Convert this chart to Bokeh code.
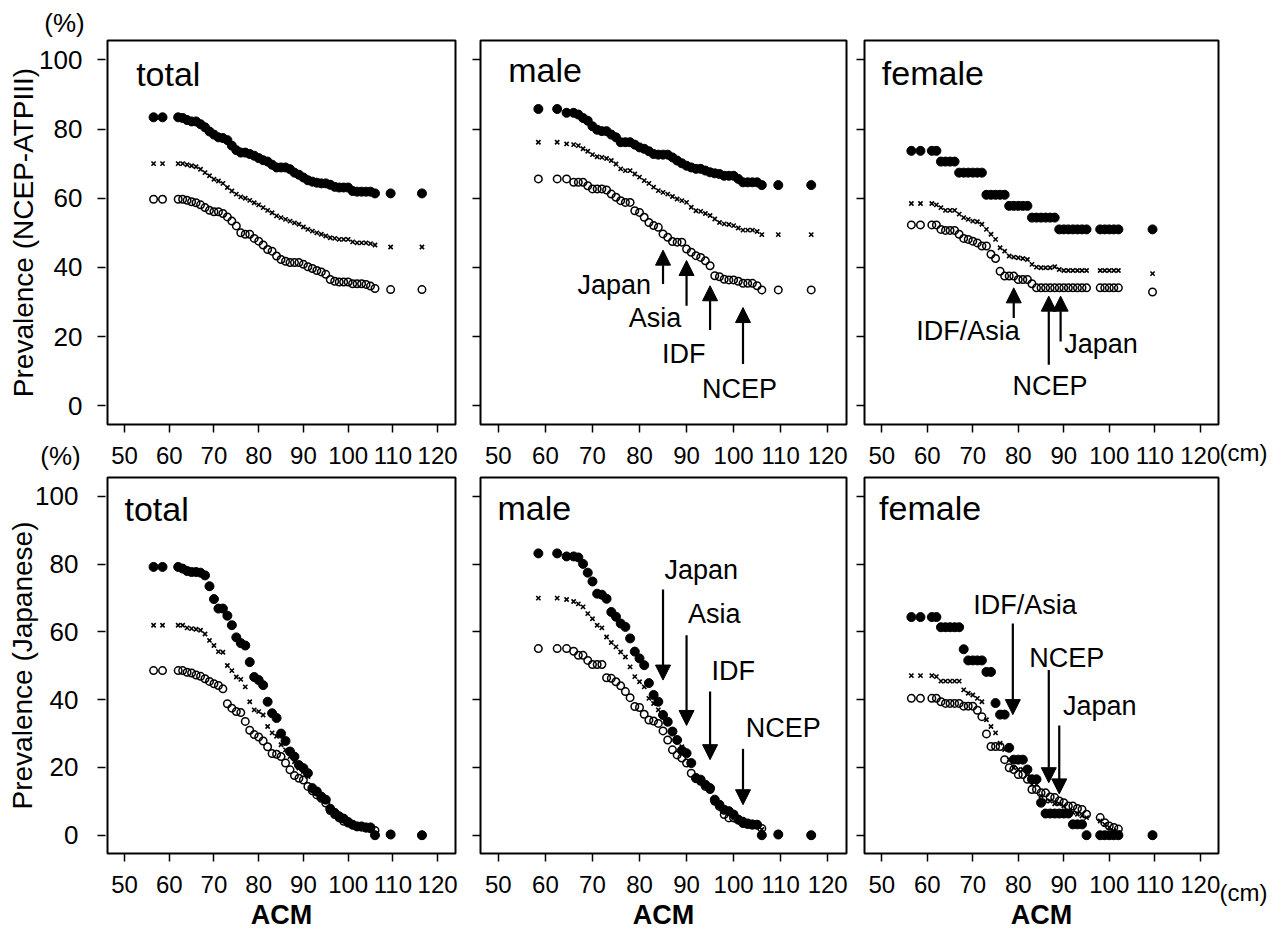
from bokeh.plotting import figure
from bokeh.models import Label, Arrow, NormalHead, FixedTicker, ColumnDataSource, Range1d
from bokeh.layouts import row, column
from bokeh.embed import file_html
from bokeh.resources import INLINE

FONT = "Liberation Sans"

# ---------------- data ----------------
x_ticks = [50, 60, 70, 80, 90, 100, 110, 120]
y_ticks = [0, 20, 40, 60, 80, 100]

total_x = [56.5, 58.5, 62, 63, 64, 65, 66, 67, 68, 69, 70, 71, 72, 73, 74, 75, 76, 77, 78, 79,
           80, 81, 82, 83, 84, 85, 86, 87, 88, 89, 90, 91, 92, 93, 94, 95, 96, 97, 98, 99,
           100, 101, 102, 103, 104, 105, 106, 109.5, 116.5]
male_x = [58.5, 62.5, 64.5, 66, 67, 68, 69, 70, 71, 72, 73, 74, 75, 76, 77, 78, 79,
          80, 81, 82, 83, 84, 85, 86, 87, 88, 89, 90, 91, 92, 93, 94, 95, 96, 97, 98, 99,
          100, 101, 102, 103, 104, 105, 106, 109.5, 116.5]
female_x = [56.5, 58.5, 61, 62, 63, 64, 65, 66, 67, 68, 69, 70, 71, 72, 73, 74, 75, 76, 77, 78, 79,
            80, 81, 82, 83, 84, 85, 86, 87, 88, 89, 90, 91, 92, 93, 94, 95,
            98, 99, 100, 101, 102, 109.5]

# NCEP-ATPIII row
ncep_total_filled = [83.4, 83.4, 83.4, 83.2, 82.6, 82.2, 82.2, 81.4, 80.5, 79.3, 78.4, 77.6, 77.4, 76.8,
                     75.2, 73.9, 73.2, 73.2, 72.8, 72.3, 71.6, 71.0, 70.6, 69.7, 68.9, 68.9, 68.9, 68.4,
                     67.4, 66.8, 66.0, 65.2, 64.8, 64.5, 64.3, 64.3, 63.9, 63.3, 63.1, 63.1, 63.1, 62.1,
                     61.9, 61.9, 61.9, 61.9, 61.4, 61.4, 61.4]
ncep_total_cross = [70.0, 70.0, 70.0, 70.0, 69.7, 69.4, 69.1, 68.4, 67.4, 66.5, 65.5, 65.0, 64.3, 63.1,
                    62.1, 61.2, 60.4, 60.0, 59.4, 58.7, 58.1, 57.3, 56.5, 55.8, 54.9, 54.4, 53.9, 53.4,
                    52.9, 52.5, 51.7, 51.0, 50.5, 50.0, 49.6, 49.1, 48.6, 48.4, 48.1, 48.1, 48.1, 47.4,
                    47.1, 47.1, 47.1, 46.9, 46.5, 45.9, 45.9]
ncep_total_open = [59.7, 59.7, 59.7, 59.7, 59.4, 59.0, 58.7, 58.1, 57.3, 56.5, 56.1, 56.1, 55.6, 54.6,
                   53.4, 52.0, 50.0, 49.6, 49.6, 48.4, 47.6, 46.5, 45.2, 44.7, 43.3, 42.3, 41.8, 41.4,
                   41.4, 41.4, 40.9, 40.2, 39.7, 39.1, 38.7, 38.0, 36.5, 36.0, 35.8, 35.8, 35.8, 35.3,
                   35.3, 35.3, 35.1, 34.6, 33.9, 33.6, 33.6]

ncep_male_filled = [85.8, 85.8, 84.7, 84.7, 84.2, 83.2, 82.4, 80.8, 79.8, 79.4, 79.4, 78.4, 77.6, 76.2,
                    76.2, 76.2, 75.5, 74.7, 74.3, 73.6, 72.8, 72.6, 72.6, 72.6, 71.8, 70.9, 70.1, 69.4,
                    68.9, 68.5, 68.5, 68.0, 67.5, 67.2, 67.0, 66.5, 66.5, 66.5, 65.6, 64.6, 64.6, 64.6,
                    64.6, 63.8, 63.8, 63.8]
ncep_male_cross = [76.2, 76.2, 75.7, 75.5, 75.2, 74.3, 73.6, 72.6, 72.0, 71.8, 71.5, 70.9, 69.9, 68.5,
                   68.0, 68.0, 67.0, 66.1, 65.1, 64.3, 63.2, 62.2, 61.7, 61.2, 60.5, 59.8, 59.3, 58.8,
                   57.4, 56.4, 56.2, 55.6, 55.0, 54.0, 53.0, 52.6, 52.4, 52.1, 51.4, 50.8, 50.8, 50.8,
                   50.4, 49.5, 49.5, 49.5]
ncep_male_open = [65.6, 65.6, 65.6, 64.6, 64.6, 64.6, 63.6, 62.7, 62.7, 62.7, 62.4, 61.2, 60.3, 59.3,
                  58.8, 58.8, 56.4, 55.9, 54.5, 53.0, 52.1, 51.6, 49.7, 48.7, 47.5, 47.3, 47.3, 45.3,
                  44.4, 43.4, 42.9, 41.9, 40.5, 37.6, 37.3, 36.6, 36.4, 36.4, 36.0, 35.4, 35.4, 35.4,
                  34.7, 33.5, 33.5, 33.5]

ncep_female_filled = [73.7, 73.7, 73.7, 73.7, 70.6, 70.6, 70.6, 70.6, 67.4, 67.4, 67.4, 67.4, 67.4, 67.4,
                      61.0, 61.0, 61.0, 61.0, 61.0, 57.8, 57.8, 57.8, 57.8, 57.8, 54.4, 54.4, 54.4, 54.4,
                      54.4, 54.4, 51.0, 51.0, 51.0, 51.0, 51.0, 51.0, 51.0, 51.0, 51.0, 51.0, 51.0, 51.0,
                      51.0]
ncep_female_cross = [58.5, 58.5, 58.5, 58.1, 57.3, 56.5, 56.5, 56.5, 55.4, 54.4, 53.9, 53.4, 53.2, 52.5,
                     51.0, 49.6, 48.1, 45.7, 44.7, 43.3, 43.0, 42.8, 42.6, 42.3, 40.9, 40.1, 39.9, 39.9,
                     39.9, 40.2, 39.4, 39.1, 39.1, 39.1, 39.1, 39.1, 39.1, 39.1, 39.1, 39.1, 39.1, 39.1,
                     38.2]
ncep_female_open = [52.3, 52.3, 52.3, 52.3, 51.0, 50.7, 50.7, 50.7, 49.6, 48.4, 48.1, 47.6, 47.1, 46.2,
                    46.2, 43.8, 42.6, 38.9, 37.5, 37.5, 37.5, 36.5, 36.5, 36.5, 35.3, 34.1, 34.1, 34.1,
                    34.1, 34.1, 34.1, 34.1, 34.1, 34.1, 34.1, 34.1, 34.1, 34.1, 34.1, 34.1, 34.1, 34.1,
                    32.9]

# Japanese row
jp_total_filled = [79.2, 79.2, 79.2, 78.7, 78.0, 77.7, 77.7, 77.5, 76.7, 73.5, 69.7, 66.9, 66.9, 64.8,
                   62.0, 58.4, 56.7, 56.0, 51.1, 46.7, 45.8, 44.3, 39.4, 36.0, 34.6, 30.0, 27.8, 24.7,
                   23.2, 20.7, 19.8, 18.3, 13.9, 12.9, 11.4, 10.5, 7.8, 6.6, 5.6, 4.9, 3.9, 3.1,
                   2.6, 2.6, 2.3, 2.3, 0.0, 0.2, 0.0]
jp_total_cross = [62.0, 62.0, 62.0, 62.0, 61.2, 61.0, 60.8, 60.5, 59.4, 57.5, 56.0, 54.2, 54.0, 50.1,
                  48.6, 46.7, 46.0, 43.8, 39.4, 37.0, 36.5, 35.5, 32.1, 30.2, 29.2, 26.7, 25.2, 23.2,
                  21.7, 19.8, 18.8, 17.3, 13.9, 12.4, 11.2, 10.0, 7.5, 6.3, 5.3, 4.3, 3.6, 2.9,
                  2.4, 2.3, 2.1, 1.9, 0.0, 0.2, 0.0]
jp_total_open = [48.6, 48.6, 48.6, 48.6, 48.1, 47.9, 47.3, 46.9, 46.2, 45.4, 44.7, 44.2, 43.2, 38.8,
                 37.5, 36.5, 36.2, 33.6, 31.0, 29.7, 29.0, 27.8, 26.1, 24.1, 23.9, 23.2, 21.3, 19.3,
                 17.6, 16.8, 16.3, 14.4, 13.1, 11.9, 10.9, 9.5, 7.3, 6.1, 5.1, 4.1, 3.6, 3.1,
                 2.6, 2.4, 2.1, 1.9, 1.4, 0.3, 0.0]

jp_male_filled = [83.2, 83.2, 82.3, 82.3, 82.0, 80.1, 77.5, 74.9, 71.3, 71.0, 69.8, 65.9, 64.5, 62.5,
                  61.5, 58.1, 54.2, 52.2, 50.2, 44.9, 41.4, 39.4, 35.5, 33.5, 30.6, 28.1, 25.0, 24.2,
                  21.3, 16.9, 16.4, 14.9, 13.9, 10.5, 9.0, 7.5, 7.1, 6.1, 4.6, 3.6, 3.3, 3.1,
                  3.1, 0.0, 0.2, 0.0]
jp_male_cross = [70.0, 70.0, 69.6, 69.0, 68.3, 67.4, 65.4, 63.9, 62.0, 61.2, 58.5, 56.9, 55.6, 54.1,
                 52.6, 49.7, 46.8, 45.3, 43.8, 40.4, 38.9, 37.0, 35.0, 33.0, 30.6, 28.1, 26.1, 24.2,
                 21.3, 17.1, 16.1, 14.7, 13.7, 10.2, 8.8, 7.5, 6.9, 5.9, 4.6, 3.9, 3.3, 3.1,
                 2.9, 1.7, 0.2, 0.0]
jp_male_open = [55.1, 55.1, 55.1, 54.3, 53.1, 53.1, 51.6, 50.4, 50.4, 50.4, 46.5, 46.3, 45.3, 44.1,
                42.4, 40.6, 38.0, 37.7, 35.7, 34.0, 33.7, 33.0, 30.8, 28.1, 25.2, 23.7, 22.8, 21.3,
                18.3, 16.7, 15.9, 14.4, 13.5, 10.0, 8.5, 6.1, 5.1, 5.1, 4.6, 4.1, 3.6, 3.3,
                3.1, 2.0, 0.3, 0.0]

jp_female_filled = [64.4, 64.4, 64.4, 64.4, 61.4, 61.4, 61.4, 61.4, 61.4, 54.9, 51.6, 51.6, 51.6, 51.6,
                    48.2, 48.2, 39.0, 35.6, 35.6, 25.8, 22.3, 22.3, 22.3, 19.4, 16.5, 16.5, 9.6, 6.4,
                    6.4, 6.4, 6.4, 6.4, 6.4, 3.2, 3.2, 3.2, 0.0, 0.0, 0.0, 0.0, 0.0, 0.0,
                    0.0]
jp_female_cross = [47.1, 47.1, 47.1, 46.8, 45.5, 45.5, 45.5, 45.5, 45.5, 42.9, 41.9, 41.4, 40.4, 39.4,
                   34.1, 32.1, 30.2, 27.2, 25.3, 22.3, 19.9, 19.4, 19.4, 18.4, 15.0, 15.0, 11.6, 10.1,
                   10.1, 9.3, 9.3, 8.6, 7.2, 6.7, 6.2, 5.7, 5.2, 4.2, 3.2, 2.3, 1.3, 0.8,
                   0.0]
jp_female_open = [40.4, 40.4, 40.4, 40.4, 39.4, 38.9, 38.9, 38.9, 38.9, 38.1, 38.1, 38.1, 36.9, 35.0,
                  29.9, 26.2, 26.2, 26.2, 22.3, 19.9, 19.4, 17.9, 17.9, 16.5, 13.5, 13.5, 12.5, 12.5,
                  11.3, 11.1, 10.1, 9.6, 8.6, 8.6, 7.9, 7.6, 6.2, 5.2, 3.7, 2.7, 2.3, 1.8,
                  0.0]

# cut-off arrows: (x, tail y, head y)
arrows_ncep_male = [(85, 35.2, 45.0), (90, 28.9, 42.0), (95, 21.9, 34.7), (102, 12.1, 28.4)]
arrows_ncep_female = [(79, 25.4, 34.1), (86.7, 11.9, 31.7), (89.3, 18.6, 31.7)]
arrows_jp_male = [(85, 72.5, 45.8), (90, 59.0, 32.4), (95, 42.4, 22.3), (102, 25.5, 9.0)]
arrows_jp_female = [(78.8, 62.5, 35.6), (86.7, 48.8, 15.5), (89.0, 32.4, 12.2)]

# arrow captions: (text, left x, baseline y)
notes_ncep_male = [("Japan", 66.8, 32.3), ("Asia", 77.7, 22.7), ("IDF", 84.8, 12.5), ("NCEP", 93.3, 2.4)]
notes_ncep_female = [("IDF/Asia", 57.6, 19.1), ("Japan", 90.1, 15.3), ("NCEP", 78.7, 3.2)]
notes_jp_male = [("Japan", 85.3, 75.7), ("Asia", 90.3, 62.5), ("IDF", 95.3, 45.8), ("NCEP", 102.6, 29.1)]
notes_jp_female = [("IDF/Asia", 70.1, 65.4), ("NCEP", 82.4, 49.8), ("Japan", 89.8, 35.6)]

X_RANGE = (46.2, 124.0)
Y_RANGE = (-5.4, 105.6)

TICK_OUT = 8


def style_axis(ax, size):
    ax.axis_line_color = None
    ax.major_tick_in = 0
    ax.major_tick_out = TICK_OUT
    ax.major_tick_line_width = 1.5
    ax.major_tick_line_color = "black"
    ax.minor_tick_line_color = None
    ax.major_label_text_font = FONT
    ax.major_label_text_font_size = size
    ax.major_label_text_color = "black"


def panel_fig(width, height, bl, br, bt, bb, xstandoff, yaxis=True):
    p = figure(width=width, height=height, x_range=Range1d(*X_RANGE), y_range=Range1d(*Y_RANGE),
               output_backend="svg", toolbar_location=None, tools="",
               y_axis_location="left" if yaxis else None,
               min_border_left=bl, min_border_right=br, min_border_top=bt, min_border_bottom=bb)
    p.background_fill_color = "white"
    p.border_fill_color = "white"
    p.outline_line_color = "black"
    p.outline_line_width = 2
    p.grid.visible = False
    style_axis(p.xaxis[0], "24px")
    p.xaxis.ticker = FixedTicker(ticks=x_ticks)
    p.xaxis.major_label_standoff = xstandoff
    if yaxis:
        style_axis(p.yaxis[0], "24px")
        p.yaxis.ticker = FixedTicker(ticks=y_ticks)
        p.yaxis.major_label_standoff = 0
        p.yaxis.major_label_overrides = {t: "" for t in y_ticks}
    return p


def yaxis_fig(height, bt, bb, title, label_standoff, title_standoff):
    # narrow figure that carries the labelled y axis of a row (its frame is 1px wide)
    p = figure(width=106, height=height, x_range=Range1d(0, 1), y_range=Range1d(*Y_RANGE),
               output_backend="svg", toolbar_location=None, tools="", x_axis_location=None,
               min_border_left=105, min_border_right=0, min_border_top=bt, min_border_bottom=bb)
    p.outline_line_color = None
    p.background_fill_color = "white"
    p.border_fill_color = "white"
    p.grid.visible = False
    ax = p.yaxis[0]
    style_axis(ax, "26px")
    ax.ticker = FixedTicker(ticks=y_ticks)
    ax.major_label_standoff = label_standoff
    ax.axis_label = title
    ax.axis_label_text_font = FONT
    ax.axis_label_text_font_size = "28px"
    ax.axis_label_text_font_style = "normal"
    ax.axis_label_text_color = "black"
    ax.axis_label_standoff = title_standoff
    return p


def draw_series(p, xs, filled, cross, openc):
    assert len(xs) == len(filled) == len(cross) == len(openc)
    p.scatter(xs, filled, marker="circle", size=9, fill_color="black", line_color="black")
    p.scatter(xs, cross, marker="x", size=6, line_color="black", line_width=1.6)
    p.scatter(xs, openc, marker="circle", size=7.5, fill_color=None, line_color="black", line_width=1.5)


def add_text(p, x, y, text, size, units="data", align="left", baseline="alphabetic", place="center",
             y_offset=0):
    lab = Label(x=x, y=y, x_units=units, y_units=units, text=text, text_font=FONT,
                text_font_size=size, text_color="black", text_align=align, text_baseline=baseline,
                y_offset=y_offset)
    p.add_layout(lab, place)


def add_arrows(p, arrows, notes):
    src = ColumnDataSource(dict(x0=[a[0] for a in arrows], y0=[a[1] for a in arrows],
                                x1=[a[0] for a in arrows], y1=[a[2] for a in arrows]))
    p.add_layout(Arrow(x_start="x0", y_start="y0", x_end="x1", y_end="y1", source=src,
                       line_width=2.2, line_color="black",
                       end=NormalHead(size=15, fill_color="black", line_color="black", line_width=1)))
    for t, x, y in notes:
        add_text(p, x, y, t, "27px", y_offset=9)


def add_xtitle(p):
    p.xaxis.axis_label = "ACM"
    p.xaxis.axis_label_text_font = FONT
    p.xaxis.axis_label_text_font_size = "27px"
    p.xaxis.axis_label_text_font_style = "bold"
    p.xaxis.axis_label_text_color = "black"
    p.xaxis.axis_label_standoff = 4


H1, H2 = 472, 460
ya = yaxis_fig(H1, 40, 48, "Prevalence (NCEP-ATPIII)", 15, -3)
f1 = panel_fig(360, H1, 1, 11, 40, 48, 14, yaxis=False)
f2 = panel_fig(384, H1, 14, 4, 40, 48, 14)
f3 = panel_fig(430, H1, 14, 62, 40, 48, 14)

yb = yaxis_fig(H2, 5, 76, "Prevalence (Japanese)", 19, -6)
f4 = panel_fig(360, H2, 1, 11, 5, 76, 14, yaxis=False)
f5 = panel_fig(384, H2, 14, 4, 5, 76, 14)
f6 = panel_fig(430, H2, 14, 62, 5, 76, 14)
for f in (f4, f5, f6):
    add_xtitle(f)

draw_series(f1, total_x, ncep_total_filled, ncep_total_cross, ncep_total_open)
draw_series(f2, male_x, ncep_male_filled, ncep_male_cross, ncep_male_open)
draw_series(f3, female_x, ncep_female_filled, ncep_female_cross, ncep_female_open)
draw_series(f4, total_x, jp_total_filled, jp_total_cross, jp_total_open)
draw_series(f5, male_x, jp_male_filled, jp_male_cross, jp_male_open)
draw_series(f6, female_x, jp_female_filled, jp_female_cross, jp_female_open)

add_text(f1, 52.6, 92.6, "total", "34px", y_offset=11)
add_text(f2, 52.1, 94.0, "male", "34px", y_offset=11)
add_text(f3, 50.0, 93.0, "female", "34px", y_offset=11)
add_text(f4, 50.0, 93.2, "total", "34px", y_offset=11)
add_text(f5, 49.8, 93.3, "male", "34px", y_offset=11)
add_text(f6, 49.4, 93.3, "female", "34px", y_offset=11)

add_arrows(f2, arrows_ncep_male, notes_ncep_male)
add_arrows(f3, arrows_ncep_female, notes_ncep_female)
add_arrows(f5, arrows_jp_male, notes_jp_male)
add_arrows(f6, arrows_jp_female, notes_jp_female)

# outer unit marks, placed in side panels (canvas pixel coordinates)
add_text(ya, 64, 22, "(%)", "26px", units="canvas", align="center", baseline="middle", place="above")
add_text(ya, 60, 455, "(%)", "26px", units="canvas", align="center", baseline="middle", place="below")
add_text(f3, 393, 452, "(cm)", "24px", units="canvas", align="center", baseline="middle", place="right")
add_text(f6, 393, 420, "(cm)", "24px", units="canvas", align="center", baseline="middle", place="right")

layout = column(row(ya, f1, f2, f3), row(yb, f4, f5, f6))
open("out.html", "w").write(file_html(layout, INLINE))
